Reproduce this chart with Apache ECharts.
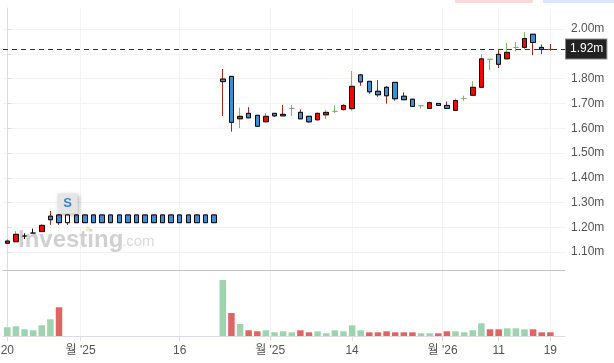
<!DOCTYPE html>
<html><head><meta charset="utf-8">
<style>html,body{margin:0;padding:0;background:#fff}#c{width:614px;height:363px}</style>
<script src="https://cdn.jsdelivr.net/npm/echarts@6/dist/echarts.min.js"></script>
</head><body><div id="c"></div>
<script>
const tickPositions = [0, 8.5, 20, 30.5, 40, 50.5, 57, 63];
const tickLabels = ["20", "월 '25", "16", "월 '25", "14", "월 '26", "11", "19"];
const priceTicks = [1.1, 1.2, 1.3, 1.4, 1.5, 1.6, 1.7, 1.8, 1.9, 2.0];
const lastPrice = 1.918;
const opens = [1.136,1.142,1.165,1.177,1.183,1.245,1.25,1.25,1.25,1.25,1.25,1.25,1.25,1.25,1.25,1.25,1.25,1.25,1.25,1.25,1.25,1.25,1.25,1.25,1.25,
  1.798,1.809,1.638,1.66,1.652,1.626,1.66,1.656,1.68,1.664,1.648,1.634,1.654,1.668,1.675,1.679,1.815,1.789,1.749,1.765,1.785,1.729,1.717,1.691,1.68,1.7,1.692,1.672,1.72,1.733,1.765,1.878,1.898,1.88,1.926,1.926,1.979,1.926,1.918];
const closes = [1.145,1.172,1.165,1.177,1.208,1.231,1.219,1.219,1.219,1.219,1.219,1.219,1.219,1.219,1.219,1.219,1.219,1.219,1.219,1.219,1.219,1.219,1.219,1.219,1.219,
  1.788,1.624,1.648,1.642,1.608,1.648,1.65,1.65,1.68,1.638,1.626,1.66,1.664,1.668,1.692,1.769,1.787,1.747,1.735,1.731,1.719,1.715,1.688,1.691,1.703,1.692,1.68,1.712,1.72,1.765,1.88,1.878,1.858,1.906,1.926,1.962,1.946,1.918,1.918];
const lows = [1.132,1.142,1.153,1.177,1.183,1.21,1.21,1.21,1.219,1.219,1.219,1.219,1.219,1.219,1.219,1.219,1.219,1.219,1.219,1.219,1.219,1.219,1.219,1.219,1.219,
  1.649,1.586,1.601,1.642,1.608,1.622,1.646,1.65,1.649,1.638,1.622,1.629,1.637,1.661,1.671,1.671,1.771,1.739,1.727,1.699,1.711,1.715,1.688,1.679,1.68,1.692,1.68,1.672,1.711,1.733,1.765,1.835,1.843,1.88,1.91,1.918,1.895,1.899,1.913];
const highs = [1.153,1.185,1.176,1.195,1.214,1.266,1.255,1.25,1.25,1.25,1.25,1.25,1.25,1.25,1.25,1.25,1.25,1.25,1.25,1.25,1.25,1.25,1.25,1.25,1.25,
  1.839,1.809,1.683,1.685,1.652,1.661,1.66,1.694,1.694,1.676,1.648,1.664,1.673,1.692,1.698,1.831,1.819,1.789,1.794,1.77,1.785,1.745,1.717,1.691,1.708,1.7,1.708,1.72,1.731,1.79,1.898,1.878,1.915,1.944,1.948,1.988,1.979,1.938,1.94];
const wickKinds = "ggkkgrrr" + "rrrrrrrrrrrrrrrrr" + "rrgrrgrrgr" + "rgggggrrrr" + "rrrggrrggg" + "ggrgggrrr";
const volumes = [8.7,9.7,6.7,5.7,10.7,16.7,28.7,0,0,0,0,0,0,0,0,0,0,0,0,0,0,0,0,0,0,
  56,23,12,5.7,4.7,5.7,3.7,4.7,3.7,5.7,3.7,4.7,2.7,5.7,4.7,10.7,5.7,3.7,3.7,4.7,3.7,3.7,3.7,2.7,2.7,2.7,4.7,4.7,3.7,5.7,12.7,6.7,6.7,7.7,7.7,6.7,6.7,3.7,3.7];
const volumeKinds = "ggggggr" + "gggggggggggggggggg" + "grgrrggggr" + "rggggggrrr" + "rrrggrrggg" + "grrgggrrr";

const wickColor = {g:'#7fb56a', r:'#a5281b', k:'#111111'};
const volColor = {g:'#9dd3ae', r:'#e06464'};
const UP = '#ff0000', DOWN = '#3d8fd1', BORDER = '#0b0b0b';
const FONT = "'Liberation Sans','Noto Sans CJK KR',sans-serif";

function sty(fill, line){
  return {color:fill, color0:fill, borderColor:line, borderColor0:line, borderColorDoji:line, borderWidth:1};
}
const wickData = opens.map((o,i)=>({
  value:[i,o,closes[i],lows[i],highs[i]],
  itemStyle:sty('rgba(0,0,0,0)', wickColor[wickKinds[i]])
}));
const bodyData = [];
opens.forEach((o,i)=>{
  const c = closes[i];
  if (o===c) return;
  const fill = i===7 ? '#ffffff' : (c>o ? UP : DOWN);
  bodyData.push({value:[i,o,c,Math.min(o,c),Math.max(o,c)], itemStyle:sty(fill,BORDER)});
});
const volData = volumes.map((v,i)=> v>0 ? {value:[i,v], itemStyle:{color:volColor[volumeKinds[i]]}} : null).filter(Boolean);

const chart = echarts.init(document.getElementById('c'), null, {renderer:'canvas'});
const labelFor = v => { const k = tickPositions.indexOf(v); return k<0 ? '' : tickLabels[k]; };
chart.setOption({
  animation:false,
  backgroundColor:'#ffffff',
  textStyle:{fontFamily:FONT},
  grid:[
    {left:3, right:49, top:8, height:262, outerBoundsMode:'none'},
    {left:3, right:49, top:270, height:66, outerBoundsMode:'none'}
  ],
  xAxis:[
    {type:'value', gridIndex:0, min:-0.5, max:64.7,
      axisLine:{show:true, onZero:false, lineStyle:{color:'#c4c4c4', width:1}},
      axisTick:{show:false, customValues:tickPositions},
      axisLabel:{show:false, customValues:tickPositions},
      splitLine:{show:true, customValues:tickPositions, lineStyle:{color:'#f3f3f3', width:1}}},
    {type:'value', gridIndex:1, min:-0.5, max:64.7,
      axisLine:{show:true, onZero:false, lineStyle:{color:'#dcdce6', width:1}},
      axisTick:{show:true, length:5, customValues:tickPositions, lineStyle:{color:'#dcdce6'}},
      axisLabel:{show:true, customValues:tickPositions, formatter:labelFor, color:'#555', fontSize:12, margin:9, showMinLabel:true, showMaxLabel:true, hideOverlap:false, fontFamily:FONT},
      splitLine:{show:true, customValues:tickPositions, lineStyle:{color:'#f3f3f3', width:1}}}
  ],
  yAxis:[
    {type:'value', gridIndex:0, position:'right', min:1.028, max:2.085,
      axisLine:{show:true, lineStyle:{color:'#dcdce6', width:1}},
      axisTick:{show:true, length:4, customValues:priceTicks, lineStyle:{color:'#dcdce6'}},
      axisLabel:{show:true, customValues:priceTicks, formatter:v=>v.toFixed(2)+'m', color:'#555', fontSize:12, margin:6, fontFamily:FONT},
      splitLine:{show:true, customValues:priceTicks, lineStyle:{color:'#f3f3f3', width:1}}},
    {type:'value', gridIndex:1, position:'right', min:0, max:66,
      axisLine:{show:true, lineStyle:{color:'#dcdce6', width:1}},
      axisTick:{show:false}, axisLabel:{show:false}, splitLine:{show:false}}
  ],
  graphic:[
    {type:'rect', left:455, top:-3, shape:{width:78,height:6}, style:{fill:'#fbd9d9'}, z:5},
    {type:'rect', left:543, top:-3, shape:{width:71,height:6}, style:{fill:'#dce6fb'}, z:5},
    {type:'text', left:18, top:228, z:1, style:{text:'Investing', font:"bold 24px 'Liberation Sans'", fill:'#d0d0d0'}},
    {type:'text', left:122, top:234, z:1, style:{text:'.com', font:"15px 'Liberation Sans'", fill:'#dadada'}},
    {type:'rect', left:86, top:227, shape:{width:4,height:4}, style:{fill:'#fbe3c4'}, z:1}
  ],
  series:[
    {type:'bar', xAxisIndex:1, yAxisIndex:1, data:volData, barWidth:6.5, silent:true},
    {type:'candlestick', name:'wicks', xAxisIndex:0, yAxisIndex:0, barWidth:5, data:wickData, silent:true, clip:false,
      markLine:{silent:true, symbol:'none', animation:false,
        lineStyle:{color:'#333', type:[5,4], width:1},
        label:{show:true, position:'end', distance:1, formatter:'1.92m', color:'#fff', fontSize:12, backgroundColor:'#222', borderColor:'#8a8a8a', borderWidth:1, padding:[4,3,3,4], fontFamily:FONT},
        data:[{yAxis:lastPrice}]},
      markPoint:{silent:true, symbol:'rect', symbolSize:[20,20], animation:false,
        itemStyle:{color:'#e6e6e6', shadowColor:'rgba(0,0,0,0.3)', shadowBlur:4, shadowOffsetX:1, shadowOffsetY:1},
        label:{show:true, formatter:'S', color:'#3d85c6', fontSize:13, fontWeight:'bold', fontFamily:FONT},
        data:[{coord:[7,1.296]}]}},
    {type:'candlestick', name:'bodies', xAxisIndex:0, yAxisIndex:0, barWidth:5, data:bodyData, silent:true, clip:false}
  ]
});
</script>
</body></html>
